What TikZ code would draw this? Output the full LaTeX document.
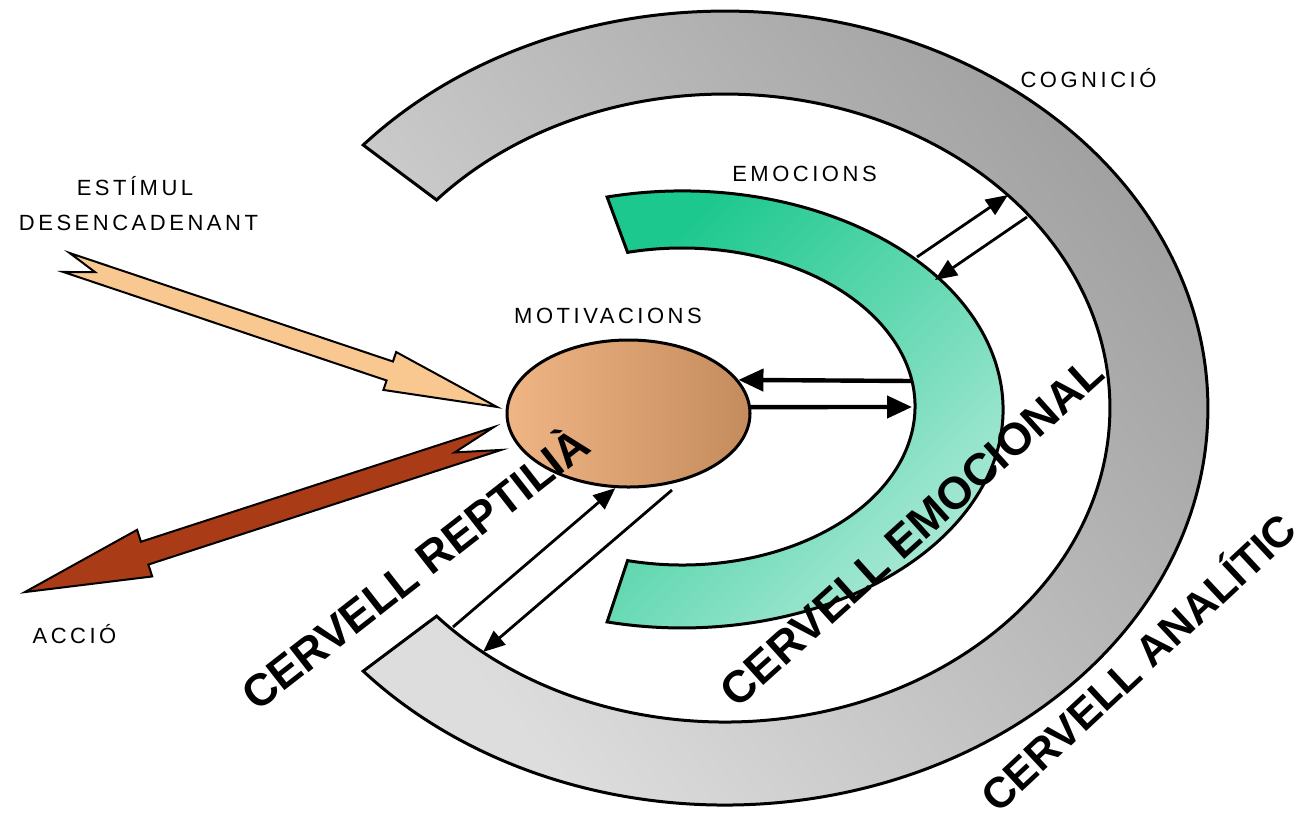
\documentclass[tikz,border=0pt]{standalone}
\usepackage{fontspec}
\setmainfont{Liberation Sans}
\newfontfamily\spacedfont[LetterSpace=16]{Liberation Sans}
\usetikzlibrary{shapes.geometric,arrows.meta}
\definecolor{grayDark}{HTML}{9C9C9C}
\definecolor{grayLight}{HTML}{DDDDDD}
\definecolor{greenDark}{HTML}{1CC88D}
\definecolor{greenLight}{HTML}{B2EADA}
\definecolor{tanLight}{HTML}{F0B585}
\definecolor{tanDark}{HTML}{C48B5C}
\definecolor{peach}{HTML}{F8C890}
\definecolor{rust}{HTML}{A93C16}
\begin{document}
\begin{tikzpicture}[x=0.5pt,y=0.5pt,
  band/.style={draw=black,line width=1.5pt,line join=miter},
  smalllabel/.style={font=\spacedfont\fontsize{11pt}{13pt}\selectfont,inner sep=0pt,anchor=base},
  biglabel/.style={font=\bfseries\fontsize{22.5pt}{26pt}\selectfont,inner sep=0pt},
  link/.style={line width=2.2pt,-{Triangle[length=12.5pt,width=11pt]}},
  thinlink/.style={line width=1.4pt,-{Triangle[length=11pt,width=9pt]}},
  blockarrow/.style={draw=black,line width=1pt,line join=miter}
]
\useasboundingbox (0,0) rectangle (1306,-831);
\fill[white] (0,0) rectangle (1306,-831);

% cervell analitic (gray band)
\draw[band, top color=grayDark, bottom color=grayLight, shading angle=-50]
  (363.2,-145) arc[start angle=138.5,end angle=-138.5,x radius=483,y radius=397]
  -- (436.6,-616.1) arc[start angle=-138.5,end angle=138.5,x radius=385,y radius=314] -- cycle;

% cervell emocional (green band)
\draw[band, top color=greenDark, bottom color=greenLight, shading angle=45]
  (607.1,-197) arc[start angle=103.5,end angle=-103.5,x radius=321,y radius=218.5]
  -- (627.6,-560.6) arc[start angle=-103.5,end angle=103.5,x radius=233,y radius=158.5] -- cycle;

% motivacions
\node[ellipse, draw, line width=1.5pt, minimum width=121.5pt, minimum height=73.5pt,
  inner sep=0pt, left color=tanLight, right color=tanDark] (mot) at (628.5,-413.5) {};

% stimulus arrow
\begin{scope}[shift={(66.5,-262.5)}, rotate=-18.55]
\filldraw[blockarrow, fill=peach] (0,10) -- (341,10) -- (341,20) -- (454,0) -- (341,-20)
  -- (341,-10) -- (0,-10) -- (30,0) -- cycle;
\end{scope}

% action arrow
\begin{scope}[shift={(497.5,-438.5)}, rotate=198]
\filldraw[blockarrow, fill=rust] (0,12) -- (371,12) -- (371,24.5) -- (497,0) -- (371,-24.5)
  -- (371,-12) -- (0,-12) -- (45,0) -- cycle;
\end{scope}

% connectors
\coordinate (giA) at (912,-381);
\coordinate (giB) at (912,-407);
\draw[link] (giA) -- (mot.17);
\draw[link] (mot.3) -- (giB);

\coordinate (goA) at (917,-257);
\coordinate (gyA) at (1008,-195);
\coordinate (gyB) at (1027,-217);
\coordinate (goB) at (935,-280);
\draw[thinlink] (goA) -- (gyA);
\draw[thinlink] (gyB) -- (goB);

\coordinate (gbA) at (453,-627);
\coordinate (mB) at (672,-490);
\coordinate (gbB) at (483,-652);
\draw[thinlink] (gbA) -- (mot.-100);
\draw[thinlink] (mB) -- (gbB);

% labels
\node[smalllabel] (cog) at (1088.5,-87.3) {COGNICIÓ};
\node[smalllabel] (emo) at (804.5,-181.7) {EMOCIONS};
\node[smalllabel] (motl) at (608,-323) {MOTIVACIONS};
\node[smalllabel] (est1) at (135,-195) {ESTÍMUL};
\node[smalllabel] (est2) at (138.5,-230) {DESENCADENANT};
\node[smalllabel] (acc) at (74.5,-643) {ACCIÓ};

\node[biglabel, rotate=38] (rep) at (413,-566) {CERVELL REPTILIÀ};
\node[biglabel, rotate=42] (emoc) at (912,-532) {CERVELL EMOCIONAL};
\node[biglabel, rotate=43, font=\bfseries\fontsize{21.5pt}{25pt}\selectfont] (ana) at (1136,-660) {CERVELL ANALÍTIC};
\end{tikzpicture}
\end{document}
